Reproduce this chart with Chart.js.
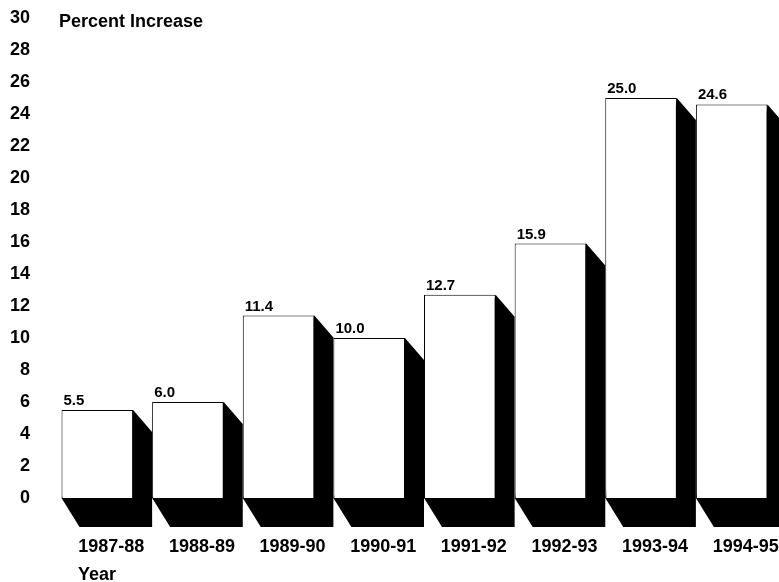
<!DOCTYPE html>
<html>
<head>
<meta charset="utf-8">
<script src="https://cdn.jsdelivr.net/npm/chart.js@4"></script>
<style>
  html, body { margin: 0; padding: 0; background: #fff; }
  #wrap { width: 779px; height: 582px; }
</style>
</head>
<body>
<div id="wrap"><canvas id="chart" width="779" height="582"></canvas></div>
<script>
// data
const years = ['1987-88', '1988-89', '1989-90', '1990-91', '1991-92', '1992-93', '1993-94', '1994-95'];
const increases = [5.5, 6.0, 11.4, 10.0, 12.7, 15.9, 25.0, 24.6];
const yTicks = [0, 2, 4, 6, 8, 10, 12, 14, 16, 18, 20, 22, 24, 26, 28, 30];

const FONT = "'Liberation Sans', Arial, sans-serif";

// black drop shadow behind each bar, plus value labels and the two axis captions
const shadowPlugin = {
  id: 'shadow',
  beforeDatasetsDraw(chart) {
    const ctx = chart.ctx;
    const meta = chart.getDatasetMeta(0);
    ctx.save();
    ctx.fillStyle = '#000';
    meta.data.forEach(bar => {
      const left = bar.x - bar.width / 2;
      const right = bar.x + bar.width / 2;
      const dx = 19, dyTop = 22, dyBot = 29;
      ctx.beginPath();
      ctx.moveTo(right, bar.y);
      ctx.lineTo(right + dx, bar.y + dyTop);
      ctx.lineTo(right + dx, bar.base + dyBot);
      ctx.lineTo(left + dx - 1, bar.base + dyBot);
      ctx.lineTo(left, bar.base);
      ctx.closePath();
      ctx.fill();
    });
    ctx.restore();
  },
  afterDatasetsDraw(chart) {
    const ctx = chart.ctx;
    const meta = chart.getDatasetMeta(0);
    ctx.save();
    ctx.fillStyle = '#000';
    ctx.font = 'bold 15px ' + FONT;
    ctx.textAlign = 'left';
    ctx.textBaseline = 'alphabetic';
    meta.data.forEach((bar, i) => {
      ctx.fillText(increases[i].toFixed(1), bar.x - bar.width / 2 + 2, bar.y - 5);
    });
    ctx.font = 'bold 18px ' + FONT;
    ctx.textBaseline = 'middle';
    ctx.fillText('Percent Increase', 59, 22);
    ctx.fillText('Year', 78, 575);
    ctx.restore();
  }
};

new Chart(document.getElementById('chart'), {
  type: 'bar',
  data: {
    labels: years,
    datasets: [{
      data: increases,
      backgroundColor: '#fff',
      borderColor: '#000',
      borderWidth: 1,
      barPercentage: 0.79,
      categoryPercentage: 1
    }]
  },
  options: {
    responsive: false,
    animation: false,
    layout: { padding: { top: 18, right: 2, left: 0, bottom: 0 } },
    plugins: {
      legend: { display: false },
      tooltip: { enabled: false }
    },
    scales: {
      x: {
        grid: { display: false },
        border: { display: false },
        ticks: {
          color: '#000',
          padding: 30,
          labelOffset: 14,
          maxRotation: 0,
          autoSkip: false,
          font: { family: FONT, size: 18, weight: 'bold' }
        },
        afterFit(scale) {
          scale.height = 84;
          scale.paddingLeft = 0;
          scale.paddingRight = 0;
        }
      },
      y: {
        min: 0,
        max: 30,
        afterBuildTicks(scale) { scale.ticks = yTicks.map(v => ({ value: v })); },
        grid: { display: false },
        border: { display: false },
        ticks: {
          color: '#000',
          padding: 14,
          font: { family: FONT, size: 18, weight: 'bold' }
        },
        afterFit(scale) {
          scale.width = 52;
          scale.paddingTop = 0;
          scale.paddingBottom = 0;
        }
      }
    }
  },
  plugins: [shadowPlugin]
});
</script>
</body>
</html>
